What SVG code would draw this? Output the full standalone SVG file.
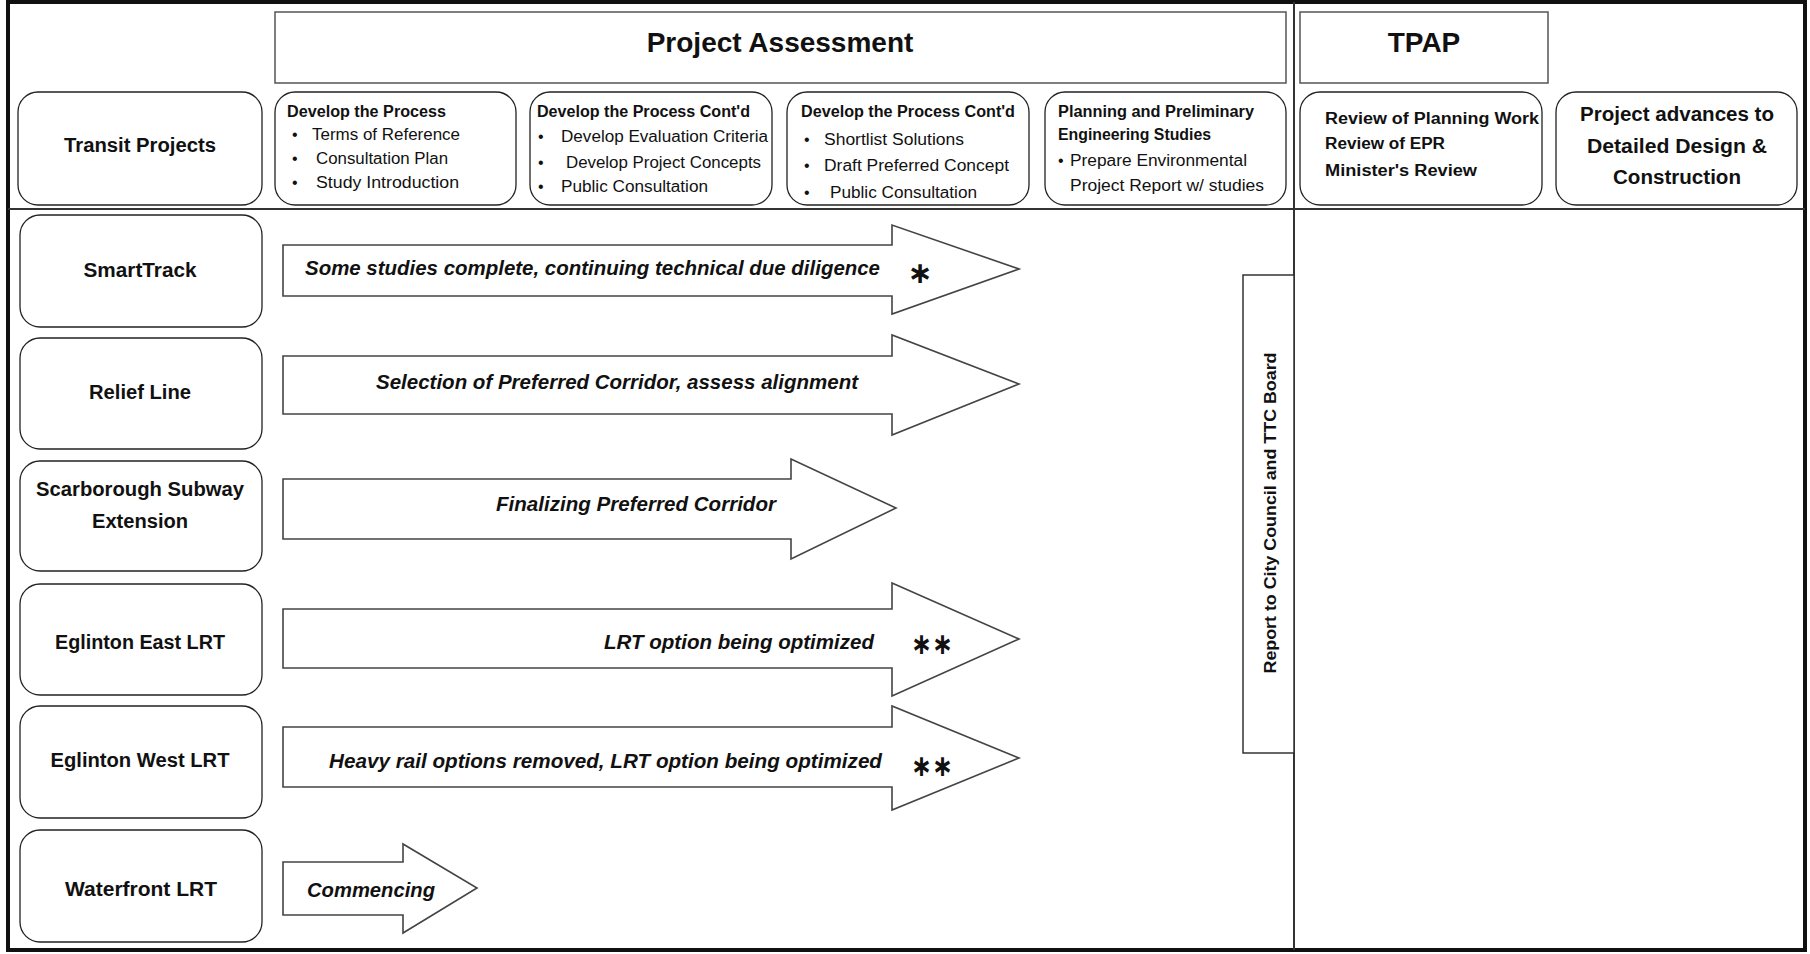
<svg xmlns="http://www.w3.org/2000/svg" width="1810" height="954" viewBox="0 0 1810 954">
<style>
text{font-family:"Liberation Sans",Arial,sans-serif;fill:#111}
.b{font-weight:bold}
.hd{font-size:28px;font-weight:bold;text-anchor:middle}
.box{fill:#fff;stroke:#222;stroke-width:1.3}
.hbox{fill:#fff;stroke:#555;stroke-width:1.5}
.lbl{font-size:20px;font-weight:bold;text-anchor:middle}
.t{font-size:16px;font-weight:bold}
.it{font-size:16px}
.arr{fill:#fff;stroke:#444;stroke-width:1.6;stroke-linejoin:miter}
.at{font-size:20px;font-weight:bold;font-style:italic}
.star{font-family:"DejaVu Sans",sans-serif;font-size:30px;font-weight:bold;text-anchor:middle}
.div{stroke:#333;stroke-width:2;fill:none}
</style>
<rect x="0" y="0" width="1810" height="954" fill="#fff"/>
<g id="frame">
<rect x="8" y="2" width="1797" height="948" fill="none" stroke="#111" stroke-width="4"/>
<line class="div" x1="1294" y1="2" x2="1294" y2="950"/>
<line class="div" x1="8" y1="209" x2="1805" y2="209"/>
</g>
<g id="hdr-pa"><rect class="hbox" x="275" y="12" width="1011" height="71"/><text class="hd" x="780" y="52">Project Assessment</text></g>
<g id="hdr-tpap"><rect class="hbox" x="1300" y="12" width="248" height="71"/><text class="hd" x="1424" y="52">TPAP</text></g>
<g id="transit"><rect class="box" x="18" y="92" width="244" height="113" rx="20"/><text class="lbl" x="140" y="152" textLength="152" lengthAdjust="spacingAndGlyphs">Transit Projects</text></g>
<g id="step1"><rect class="box" x="275" y="92" width="241" height="113" rx="20"/>
<text class="t" x="287" y="117" textLength="159" lengthAdjust="spacingAndGlyphs">Develop the Process</text>
<text class="it" x="292" y="140">•</text><text class="it" x="312" y="140" textLength="148" lengthAdjust="spacingAndGlyphs">Terms of Reference</text>
<text class="it" x="292" y="164">•</text><text class="it" x="316" y="164" textLength="132" lengthAdjust="spacingAndGlyphs">Consultation Plan</text>
<text class="it" x="292" y="188">•</text><text class="it" x="316" y="188" textLength="143" lengthAdjust="spacingAndGlyphs">Study Introduction</text>
</g>
<g id="step2"><rect class="box" x="530" y="92" width="242" height="113" rx="20"/>
<text class="t" x="537" y="117" textLength="213" lengthAdjust="spacingAndGlyphs">Develop the Process Cont'd</text>
<text class="it" x="538" y="142">•</text><text class="it" x="561" y="142" textLength="207" lengthAdjust="spacingAndGlyphs">Develop Evaluation Criteria</text>
<text class="it" x="538" y="168">•</text><text class="it" x="566" y="168" textLength="195" lengthAdjust="spacingAndGlyphs">Develop Project Concepts</text>
<text class="it" x="538" y="192">•</text><text class="it" x="561" y="192" textLength="147" lengthAdjust="spacingAndGlyphs">Public Consultation</text>
</g>
<g id="step3"><rect class="box" x="787" y="92" width="242" height="113" rx="20"/>
<text class="t" x="801" y="117" textLength="214" lengthAdjust="spacingAndGlyphs">Develop the Process Cont'd</text>
<text class="it" x="804" y="145">•</text><text class="it" x="824" y="145" textLength="140" lengthAdjust="spacingAndGlyphs">Shortlist Solutions</text>
<text class="it" x="804" y="171">•</text><text class="it" x="824" y="171" textLength="185" lengthAdjust="spacingAndGlyphs">Draft Preferred Concept</text>
<text class="it" x="804" y="198">•</text><text class="it" x="830" y="198" textLength="147" lengthAdjust="spacingAndGlyphs">Public Consultation</text>
</g>
<g id="step4"><rect class="box" x="1045" y="92" width="241" height="113" rx="20"/>
<text class="t" x="1058" y="117" textLength="196" lengthAdjust="spacingAndGlyphs">Planning and Preliminary</text>
<text class="t" x="1058" y="140" textLength="153" lengthAdjust="spacingAndGlyphs">Engineering Studies</text>
<text class="it" x="1058" y="166">•</text><text class="it" x="1070" y="166" textLength="177" lengthAdjust="spacingAndGlyphs">Prepare Environmental</text>
<text class="it" x="1070" y="191" textLength="194" lengthAdjust="spacingAndGlyphs">Project Report w/ studies</text>
</g>
<g id="review"><rect class="box" x="1300" y="92" width="242" height="113" rx="20"/>
<text class="t" x="1325" y="124" font-size="17" textLength="214" lengthAdjust="spacingAndGlyphs">Review of Planning Work</text>
<text class="t" x="1325" y="149" font-size="17" textLength="120" lengthAdjust="spacingAndGlyphs">Review of EPR</text>
<text class="t" x="1325" y="176" font-size="17" textLength="152" lengthAdjust="spacingAndGlyphs">Minister's Review</text>
</g>
<g id="advance"><rect class="box" x="1556" y="92" width="241" height="113" rx="20"/>
<text class="lbl" x="1677" y="121" textLength="194" lengthAdjust="spacingAndGlyphs">Project advances to</text>
<text class="lbl" x="1677" y="153" textLength="180" lengthAdjust="spacingAndGlyphs">Detailed Design &amp;</text>
<text class="lbl" x="1677" y="184" textLength="128" lengthAdjust="spacingAndGlyphs">Construction</text>
</g>
<g id="r-smarttrack"><rect class="box" x="20" y="215" width="242" height="112" rx="20"/><text class="lbl" x="140" y="277" textLength="113" lengthAdjust="spacingAndGlyphs">SmartTrack</text></g>
<g id="r-relief"><rect class="box" x="20" y="338" width="242" height="111" rx="20"/><text class="lbl" x="140" y="399" textLength="102" lengthAdjust="spacingAndGlyphs">Relief Line</text></g>
<g id="r-scarborough"><rect class="box" x="20" y="461" width="242" height="110" rx="20"/><text class="lbl" x="140" y="496" textLength="208" lengthAdjust="spacingAndGlyphs">Scarborough Subway</text><text class="lbl" x="140" y="528" textLength="96" lengthAdjust="spacingAndGlyphs">Extension</text></g>
<g id="r-eeast"><rect class="box" x="20" y="584" width="242" height="111" rx="20"/><text class="lbl" x="140" y="649" textLength="170" lengthAdjust="spacingAndGlyphs">Eglinton East LRT</text></g>
<g id="r-ewest"><rect class="box" x="20" y="706" width="242" height="112" rx="20"/><text class="lbl" x="140" y="767" textLength="179" lengthAdjust="spacingAndGlyphs">Eglinton West LRT</text></g>
<g id="r-waterfront"><rect class="box" x="20" y="830" width="242" height="112" rx="20"/><text class="lbl" x="141" y="896" textLength="152" lengthAdjust="spacingAndGlyphs">Waterfront LRT</text></g>
<g id="connectors">
<polygon class="arr" points="283,245 892,245 892,225 1019,269 892,314 892,296 283,296"/>
<polygon class="arr" points="283,356 892,356 892,335 1019,384 892,435 892,414 283,414"/>
<polygon class="arr" points="283,479 791,479 791,459 896,508 791,559 791,539 283,539"/>
<polygon class="arr" points="283,609 892,609 892,583 1019,639 892,696 892,668 283,668"/>
<polygon class="arr" points="283,727 892,727 892,706 1019,758 892,810 892,787 283,787"/>
<polygon class="arr" points="283,862 403,862 403,844 477,888 403,933 403,915 283,915"/>
</g>
<g id="arrow-labels">
<text class="at" x="305" y="275" textLength="575" lengthAdjust="spacingAndGlyphs">Some studies complete, continuing technical due diligence</text>
<text class="star" x="920" y="283">∗</text>
<text class="at" x="376" y="389" textLength="482" lengthAdjust="spacingAndGlyphs">Selection of Preferred Corridor, assess alignment</text>
<text class="at" x="496" y="511" textLength="280" lengthAdjust="spacingAndGlyphs">Finalizing Preferred Corridor</text>
<text class="at" x="604" y="649" textLength="270" lengthAdjust="spacingAndGlyphs">LRT option being optimized</text>
<text class="star" x="932" y="654" textLength="42" lengthAdjust="spacingAndGlyphs">∗∗</text>
<text class="at" x="329" y="768" textLength="553" lengthAdjust="spacingAndGlyphs">Heavy rail options removed, LRT option being optimized</text>
<text class="star" x="932" y="776" textLength="42" lengthAdjust="spacingAndGlyphs">∗∗</text>
<text class="at" x="307" y="897" textLength="128" lengthAdjust="spacingAndGlyphs">Commencing</text>
</g>
<g id="report"><rect x="1243" y="275" width="51" height="478" fill="#fff" stroke="#333" stroke-width="1.5"/>
<text class="t" transform="translate(1276,513) rotate(-90)" text-anchor="middle" textLength="321" lengthAdjust="spacingAndGlyphs">Report to City Council and TTC Board</text></g>
</svg>
